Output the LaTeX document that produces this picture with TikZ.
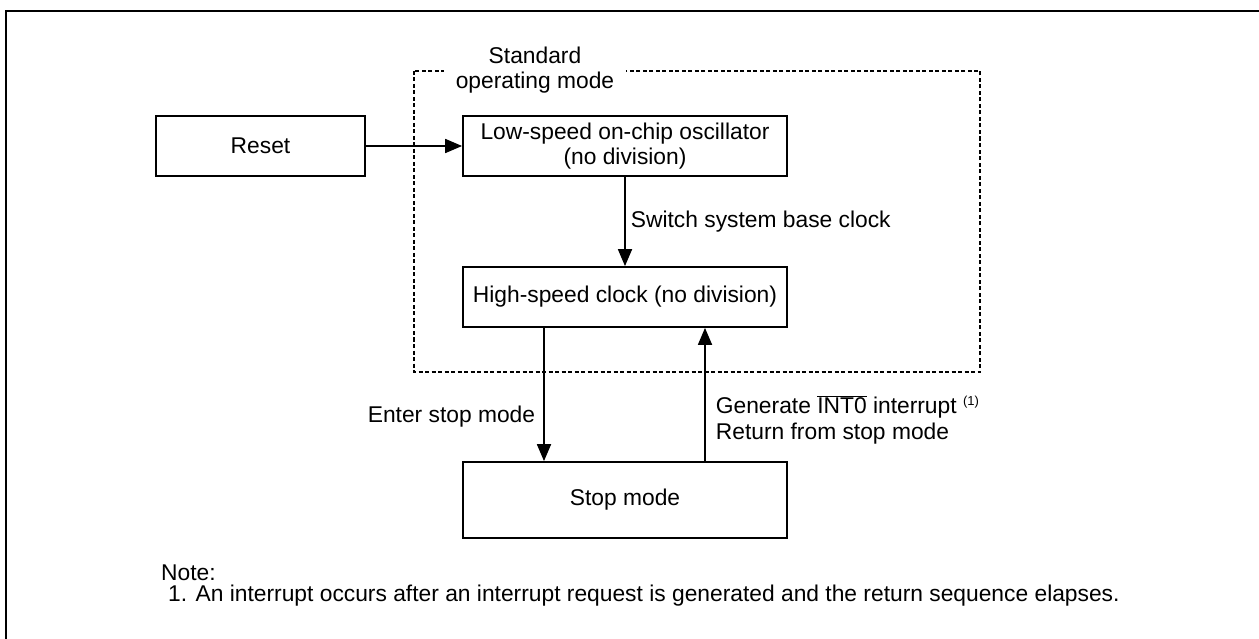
\documentclass[tikz,border=0pt]{standalone}
\usepackage{fontspec}
\setmainfont{Liberation Sans}
\usetikzlibrary{arrows.meta}
\begin{document}
\begin{tikzpicture}[x=1pt,y=-1pt,
  every node/.style={font=\fontsize{22.8}{25.5}\selectfont},
  box/.style={draw, line width=1.8pt, minimum width=324pt, minimum height=60pt, inner sep=0pt, align=center},
  conn/.style={line width=1.8pt, -{Triangle[length=17pt,width=14pt]}},
  lbl/.style={inner sep=0pt, align=left},
  grp/.style={draw, line width=1.1pt, dash pattern=on 4pt off 2.5pt},
  frame/.style={line width=2.7pt}]
\useasboundingbox (0,0) rectangle (1259,639);
\draw[frame] (6,639) -- (6,11) -- (1259,11);
\draw[grp] (414,71) rectangle (980,372);
\node[fill=white, inner xsep=12pt, inner ysep=0pt, align=center] (std) at (535,70) {Standard\\operating mode};
\node[box, minimum width=209pt] (reset) at (260.5,146) {Reset};
\node[box] (low) at (625,146) {Low-speed on-chip oscillator\\(no division)};
\node[box] (high) at (625,297) {High-speed clock (no division)};
\node[box, minimum height=76pt] (stop) at (625,500) {Stop mode};
\draw[conn] (reset) -- (low);
\draw[conn] (low) -- node[lbl, right=5pt] {Switch system base clock} (high);
\draw[conn] ([xshift=-81pt]high.south) -- node[lbl, pos=0.667, left=8pt] {Enter stop mode} ([xshift=-81pt]stop.north);
\draw[conn] ([xshift=80pt]stop.north) -- node[lbl, pos=0.311, right=10pt] {Generate $\overline{\mbox{INT0}}$ interrupt \raisebox{0.7ex}{\fontsize{13}{14}\selectfont(1)}\\Return from stop mode} ([xshift=80pt]high.south);
\node[lbl, anchor=west] (note) at (161,573) {Note:};
\node[lbl, anchor=west] (note1) at (168,596) {1. An interrupt occurs after an interrupt request is generated and the return sequence elapses.};
\end{tikzpicture}
\end{document}
